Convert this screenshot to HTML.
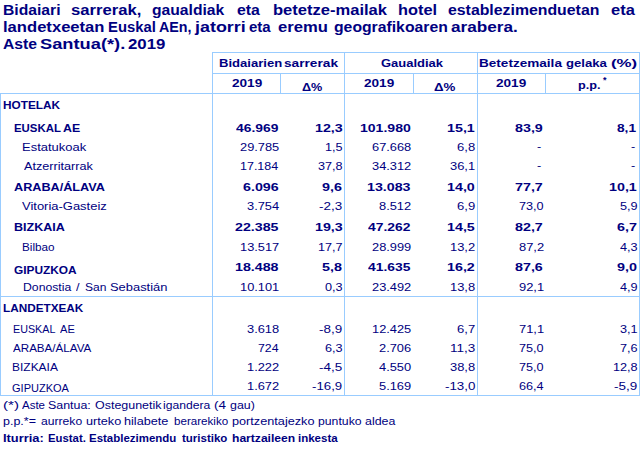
<!DOCTYPE html><html><head><meta charset="utf-8"><style>
html,body{margin:0;padding:0;background:#fff;width:642px;height:450px;overflow:hidden;position:relative}
.t{position:absolute;white-space:nowrap;font-family:"Liberation Sans",sans-serif;color:#000080;margin:0;padding:0}
.b{position:absolute;background:#99CCFF}
.bo{font-weight:bold}
</style></head><body>
<div class="b" style="left:212px;top:52px;width:428px;height:1px"></div>
<div class="b" style="left:212px;top:73px;width:428px;height:1px"></div>
<div class="b" style="left:0px;top:93px;width:640px;height:1px"></div>
<div class="b" style="left:0px;top:296px;width:640px;height:1px"></div>
<div class="b" style="left:0px;top:395px;width:640px;height:1px"></div>
<div class="b" style="left:212px;top:52px;width:1px;height:344px"></div>
<div class="b" style="left:344px;top:52px;width:1px;height:344px"></div>
<div class="b" style="left:477px;top:52px;width:1px;height:344px"></div>
<div class="b" style="left:639px;top:52px;width:1px;height:344px"></div>
<div class="b" style="left:0px;top:93px;width:1px;height:303px"></div>
<div class="b" style="left:280px;top:73px;width:1px;height:21px"></div>
<div class="b" style="left:413px;top:73px;width:1px;height:21px"></div>
<div class="b" style="left:545px;top:73px;width:1px;height:21px"></div>
<div id="t0" class="t bo" style="font-size:14px;line-height:16px;left:3.03px;top:2.0px;transform:scaleX(1.1197);transform-origin:0 0">Bidaiari</div>
<div id="t1" class="t bo" style="font-size:14px;line-height:16px;left:70.56px;top:2.0px;transform:scaleX(1.1883);transform-origin:0 0">sarrerak,</div>
<div id="t2" class="t bo" style="font-size:14px;line-height:16px;left:152.04px;top:2.0px;transform:scaleX(1.1185);transform-origin:0 0">gaualdiak</div>
<div id="t3" class="t bo" style="font-size:14px;line-height:16px;left:237.23px;top:2.0px;transform:scaleX(1.1303);transform-origin:0 0">eta</div>
<div id="t4" class="t bo" style="font-size:14px;line-height:16px;left:272.97px;top:2.0px;transform:scaleX(1.1814);transform-origin:0 0">betetze-mailak</div>
<div id="t5" class="t bo" style="font-size:14px;line-height:16px;left:397.99px;top:2.0px;transform:scaleX(1.1660);transform-origin:0 0">hotel</div>
<div id="t6" class="t bo" style="font-size:14px;line-height:16px;left:448.02px;top:2.0px;transform:scaleX(1.1311);transform-origin:0 0">establezimenduetan</div>
<div id="t7" class="t bo" style="font-size:14px;line-height:16px;left:610.97px;top:2.0px;transform:scaleX(1.1761);transform-origin:0 0">eta</div>
<div id="t8" class="t bo" style="font-size:14px;line-height:16px;left:2.97px;top:19.0px;transform:scaleX(1.1859);transform-origin:0 0">landetxeetan</div>
<div id="t9" class="t bo" style="font-size:14px;line-height:16px;left:108.12px;top:19.0px;transform:scaleX(1.0580);transform-origin:0 0">Euskal</div>
<div id="t10" class="t bo" style="font-size:14px;line-height:16px;left:159.17px;top:19.0px;transform:scaleX(1.0186);transform-origin:0 0">AEn,</div>
<div id="t11" class="t bo" style="font-size:14px;line-height:16px;left:194.94px;top:19.0px;transform:scaleX(1.2778);transform-origin:0 0">jatorri</div>
<div id="t12" class="t bo" style="font-size:14px;line-height:16px;left:249.10px;top:19.0px;transform:scaleX(1.0716);transform-origin:0 0">eta</div>
<div id="t13" class="t bo" style="font-size:14px;line-height:16px;left:277.95px;top:19.0px;transform:scaleX(1.1875);transform-origin:0 0">eremu</div>
<div id="t14" class="t bo" style="font-size:14px;line-height:16px;left:334.02px;top:19.0px;transform:scaleX(1.1248);transform-origin:0 0">geografikoaren</div>
<div id="t15" class="t bo" style="font-size:14px;line-height:16px;left:451.41px;top:19.0px;transform:scaleX(1.2255);transform-origin:0 0">arabera.</div>
<div id="t16" class="t bo" style="font-size:14px;line-height:16px;left:3.13px;top:36.0px;transform:scaleX(1.1221);transform-origin:0 0">Aste</div>
<div id="t17" class="t bo" style="font-size:14px;line-height:16px;left:40.24px;top:36.0px;transform:scaleX(1.3044);transform-origin:0 0">Santua(*).</div>
<div id="t18" class="t bo" style="font-size:14px;line-height:16px;left:127.93px;top:36.0px;transform:scaleX(1.2007);transform-origin:0 0">2019</div>
<div id="t19" class="t bo" style="font-size:11px;line-height:13px;left:219.45px;top:57.0px;transform:scaleX(1.1884);transform-origin:0 0">Bidaiarien</div>
<div id="t20" class="t bo" style="font-size:11px;line-height:13px;left:283.88px;top:57.0px;transform:scaleX(1.2439);transform-origin:0 0">sarrerak</div>
<div id="t21" class="t bo" style="font-size:11px;line-height:13px;left:380.97px;top:57.0px;transform:scaleX(1.1792);transform-origin:0 0">Gaualdiak</div>
<div id="t22" class="t bo" style="font-size:11px;line-height:13px;left:478.89px;top:57.0px;transform:scaleX(1.2332);transform-origin:0 0">Betetzemaila</div>
<div id="t23" class="t bo" style="font-size:11px;line-height:13px;left:565.94px;top:57.0px;transform:scaleX(1.1954);transform-origin:0 0">gelaka</div>
<div id="t24" class="t bo" style="font-size:11px;line-height:13px;left:610.97px;top:57.0px;transform:scaleX(1.5340);transform-origin:0 0">(%)</div>
<div id="t25" class="t bo" style="font-size:11px;line-height:13px;left:231.93px;top:77.0px;transform:scaleX(1.2352);transform-origin:0 0">2019</div>
<div id="t26" class="t bo" style="font-size:11px;line-height:13px;left:302.00px;top:81.0px;transform:scaleX(1.1500);transform-origin:0 0">Δ%</div>
<div id="t27" class="t bo" style="font-size:11px;line-height:13px;left:363.93px;top:77.0px;transform:scaleX(1.2352);transform-origin:0 0">2019</div>
<div id="t28" class="t bo" style="font-size:11px;line-height:13px;left:433.95px;top:81.0px;transform:scaleX(1.2105);transform-origin:0 0">Δ%</div>
<div id="t29" class="t bo" style="font-size:11px;line-height:13px;left:495.93px;top:77.0px;transform:scaleX(1.2352);transform-origin:0 0">2019</div>
<div id="t30" class="t bo" style="font-size:11px;line-height:13px;left:578.00px;top:79.0px;transform:scaleX(1.1500);transform-origin:0 0">p.p.</div>
<div id="t31" class="t bo" style="font-size:11px;line-height:13px;left:3.07px;top:99.0px;transform:scaleX(1.0733);transform-origin:0 0">HOTELAK</div>
<div id="t32" class="t bo" style="font-size:11px;line-height:13px;left:14.39px;top:122.0px;transform:scaleX(1.0374);transform-origin:0 0">EUSKAL</div>
<div id="t33" class="t bo" style="font-size:11px;line-height:13px;left:63.04px;top:122.0px;transform:scaleX(1.1212);transform-origin:0 0">AE</div>
<div id="t34" class="t" style="font-size:11px;line-height:13px;left:21.96px;top:141.0px;transform:scaleX(1.1783);transform-origin:0 0">Estatukoak</div>
<div id="t35" class="t" style="font-size:11px;line-height:13px;left:23.50px;top:160.0px;transform:scaleX(1.1500);transform-origin:0 0">Atzerritarrak</div>
<div id="t36" class="t bo" style="font-size:11px;line-height:13px;left:14.00px;top:181.0px;transform:scaleX(1.1500);transform-origin:0 0">ARABA/ÁLAVA</div>
<div id="t37" class="t" style="font-size:11px;line-height:13px;left:22.47px;top:200.0px;transform:scaleX(1.1784);transform-origin:0 0">Vitoria-Gasteiz</div>
<div id="t38" class="t bo" style="font-size:11px;line-height:13px;left:14.01px;top:221.0px;transform:scaleX(1.1385);transform-origin:0 0">BIZKAIA</div>
<div id="t39" class="t" style="font-size:11px;line-height:13px;left:22.11px;top:241.0px;transform:scaleX(1.0654);transform-origin:0 0">Bilbao</div>
<div id="t40" class="t bo" style="font-size:11px;line-height:13px;left:14.06px;top:264.0px;transform:scaleX(1.0792);transform-origin:0 0">GIPUZKOA</div>
<div id="t41" class="t" style="font-size:11px;line-height:13px;left:22.54px;top:281.0px;transform:scaleX(1.1113);transform-origin:0 0">Donostia</div>
<div id="t42" class="t" style="font-size:11px;line-height:13px;left:76.00px;top:281.0px;transform:scaleX(1.1500);transform-origin:0 0">/</div>
<div id="t43" class="t" style="font-size:11px;line-height:13px;left:84.87px;top:281.0px;transform:scaleX(1.0952);transform-origin:0 0">San</div>
<div id="t44" class="t" style="font-size:11px;line-height:13px;left:109.89px;top:281.0px;transform:scaleX(1.1732);transform-origin:0 0">Sebastián</div>
<div id="t45" class="t bo" style="font-size:11px;line-height:13px;left:3.07px;top:302.0px;transform:scaleX(1.0688);transform-origin:0 0">LANDETXEAK</div>
<div id="t46" class="t" style="font-size:11px;line-height:13px;left:12.97px;top:323.0px;transform:scaleX(0.9763);transform-origin:0 0">EUSKAL</div>
<div id="t47" class="t" style="font-size:11px;line-height:13px;left:60.38px;top:323.0px;transform:scaleX(1.0062);transform-origin:0 0">AE</div>
<div id="t48" class="t" style="font-size:11px;line-height:13px;left:13.04px;top:342.0px;transform:scaleX(1.0553);transform-origin:0 0">ARABA/ÁLAVA</div>
<div id="t49" class="t" style="font-size:11px;line-height:13px;left:12.08px;top:361.0px;transform:scaleX(1.0888);transform-origin:0 0">BIZKAIA</div>
<div id="t50" class="t" style="font-size:11px;line-height:13px;left:12.45px;top:382.0px;transform:scaleX(1.0019);transform-origin:0 0">GIPUZKOA</div>
<div id="t51" class="t bo" style="font-size:11px;line-height:13px;left:236.26px;top:122.0px;transform:scaleX(1.2589);transform-origin:0 0">46.969</div>
<div id="t52" class="t bo" style="font-size:11px;line-height:13px;left:314.88px;top:122.0px;transform:scaleX(1.2956);transform-origin:0 0">12,3</div>
<div id="t53" class="t bo" style="font-size:11px;line-height:13px;left:360.08px;top:122.0px;transform:scaleX(1.2766);transform-origin:0 0">101.980</div>
<div id="t54" class="t bo" style="font-size:11px;line-height:13px;left:447.40px;top:122.0px;transform:scaleX(1.2978);transform-origin:0 0">15,1</div>
<div id="t55" class="t bo" style="font-size:11px;line-height:13px;left:515.40px;top:122.0px;transform:scaleX(1.2978);transform-origin:0 0">83,9</div>
<div id="t56" class="t bo" style="font-size:11px;line-height:13px;left:616.90px;top:122.0px;transform:scaleX(1.2441);transform-origin:0 0">8,1</div>
<div id="t57" class="t" style="font-size:11px;line-height:13px;left:239.91px;top:141.0px;transform:scaleX(1.1650);transform-origin:0 0">29.785</div>
<div id="t58" class="t" style="font-size:11px;line-height:13px;left:324.65px;top:141.0px;transform:scaleX(1.1505);transform-origin:0 0">1,5</div>
<div id="t59" class="t" style="font-size:11px;line-height:13px;left:371.91px;top:141.0px;transform:scaleX(1.1650);transform-origin:0 0">67.668</div>
<div id="t60" class="t" style="font-size:11px;line-height:13px;left:457.13px;top:141.0px;transform:scaleX(1.1856);transform-origin:0 0">6,8</div>
<div id="t61" class="t" style="font-size:11px;line-height:13px;left:537.39px;top:140.0px;transform:scaleX(1.1500);transform-origin:0 0">-</div>
<div id="t62" class="t" style="font-size:11px;line-height:13px;left:631.39px;top:140.0px;transform:scaleX(1.1500);transform-origin:0 0">-</div>
<div id="t63" class="t" style="font-size:11px;line-height:13px;left:239.94px;top:160.0px;transform:scaleX(1.1344);transform-origin:0 0">17.184</div>
<div id="t64" class="t" style="font-size:11px;line-height:13px;left:317.58px;top:160.0px;transform:scaleX(1.1497);transform-origin:0 0">37,8</div>
<div id="t65" class="t" style="font-size:11px;line-height:13px;left:371.91px;top:160.0px;transform:scaleX(1.1650);transform-origin:0 0">34.312</div>
<div id="t66" class="t" style="font-size:11px;line-height:13px;left:450.06px;top:160.0px;transform:scaleX(1.1746);transform-origin:0 0">36,1</div>
<div id="t67" class="t" style="font-size:11px;line-height:13px;left:537.39px;top:159.0px;transform:scaleX(1.1500);transform-origin:0 0">-</div>
<div id="t68" class="t" style="font-size:11px;line-height:13px;left:631.39px;top:159.0px;transform:scaleX(1.1500);transform-origin:0 0">-</div>
<div id="t69" class="t bo" style="font-size:11px;line-height:13px;left:242.74px;top:181.0px;transform:scaleX(1.2948);transform-origin:0 0">6.096</div>
<div id="t70" class="t bo" style="font-size:11px;line-height:13px;left:321.93px;top:181.0px;transform:scaleX(1.3035);transform-origin:0 0">9,6</div>
<div id="t71" class="t bo" style="font-size:11px;line-height:13px;left:367.08px;top:181.0px;transform:scaleX(1.2929);transform-origin:0 0">13.083</div>
<div id="t72" class="t bo" style="font-size:11px;line-height:13px;left:447.40px;top:181.0px;transform:scaleX(1.2978);transform-origin:0 0">14,0</div>
<div id="t73" class="t bo" style="font-size:11px;line-height:13px;left:515.40px;top:181.0px;transform:scaleX(1.2978);transform-origin:0 0">77,7</div>
<div id="t74" class="t bo" style="font-size:11px;line-height:13px;left:609.40px;top:181.0px;transform:scaleX(1.2978);transform-origin:0 0">10,1</div>
<div id="t75" class="t" style="font-size:11px;line-height:13px;left:246.98px;top:200.0px;transform:scaleX(1.1687);transform-origin:0 0">3.754</div>
<div id="t76" class="t" style="font-size:11px;line-height:13px;left:319.39px;top:200.0px;transform:scaleX(1.2231);transform-origin:0 0">-2,3</div>
<div id="t77" class="t" style="font-size:11px;line-height:13px;left:378.98px;top:200.0px;transform:scaleX(1.1687);transform-origin:0 0">8.512</div>
<div id="t78" class="t" style="font-size:11px;line-height:13px;left:457.13px;top:200.0px;transform:scaleX(1.1856);transform-origin:0 0">6,9</div>
<div id="t79" class="t" style="font-size:11px;line-height:13px;left:518.58px;top:200.0px;transform:scaleX(1.1497);transform-origin:0 0">73,0</div>
<div id="t80" class="t" style="font-size:11px;line-height:13px;left:619.65px;top:200.0px;transform:scaleX(1.1505);transform-origin:0 0">5,9</div>
<div id="t81" class="t bo" style="font-size:11px;line-height:13px;left:235.15px;top:221.0px;transform:scaleX(1.2929);transform-origin:0 0">22.385</div>
<div id="t82" class="t bo" style="font-size:11px;line-height:13px;left:314.88px;top:221.0px;transform:scaleX(1.2956);transform-origin:0 0">19,3</div>
<div id="t83" class="t bo" style="font-size:11px;line-height:13px;left:368.21px;top:221.0px;transform:scaleX(1.2589);transform-origin:0 0">47.262</div>
<div id="t84" class="t bo" style="font-size:11px;line-height:13px;left:447.40px;top:221.0px;transform:scaleX(1.2978);transform-origin:0 0">14,5</div>
<div id="t85" class="t bo" style="font-size:11px;line-height:13px;left:515.40px;top:221.0px;transform:scaleX(1.2978);transform-origin:0 0">82,7</div>
<div id="t86" class="t bo" style="font-size:11px;line-height:13px;left:616.99px;top:221.0px;transform:scaleX(1.3035);transform-origin:0 0">6,7</div>
<div id="t87" class="t" style="font-size:11px;line-height:13px;left:239.91px;top:241.0px;transform:scaleX(1.1650);transform-origin:0 0">13.517</div>
<div id="t88" class="t" style="font-size:11px;line-height:13px;left:317.58px;top:241.0px;transform:scaleX(1.1497);transform-origin:0 0">17,7</div>
<div id="t89" class="t" style="font-size:11px;line-height:13px;left:371.91px;top:241.0px;transform:scaleX(1.1650);transform-origin:0 0">28.999</div>
<div id="t90" class="t" style="font-size:11px;line-height:13px;left:450.06px;top:241.0px;transform:scaleX(1.1746);transform-origin:0 0">13,2</div>
<div id="t91" class="t" style="font-size:11px;line-height:13px;left:518.58px;top:241.0px;transform:scaleX(1.1743);transform-origin:0 0">87,2</div>
<div id="t92" class="t" style="font-size:11px;line-height:13px;left:619.65px;top:241.0px;transform:scaleX(1.1505);transform-origin:0 0">4,3</div>
<div id="t93" class="t bo" style="font-size:11px;line-height:13px;left:235.15px;top:261.0px;transform:scaleX(1.2929);transform-origin:0 0">18.488</div>
<div id="t94" class="t bo" style="font-size:11px;line-height:13px;left:321.93px;top:261.0px;transform:scaleX(1.3035);transform-origin:0 0">5,8</div>
<div id="t95" class="t bo" style="font-size:11px;line-height:13px;left:368.21px;top:261.0px;transform:scaleX(1.2589);transform-origin:0 0">41.635</div>
<div id="t96" class="t bo" style="font-size:11px;line-height:13px;left:447.40px;top:261.0px;transform:scaleX(1.2978);transform-origin:0 0">16,2</div>
<div id="t97" class="t bo" style="font-size:11px;line-height:13px;left:515.40px;top:261.0px;transform:scaleX(1.2978);transform-origin:0 0">87,6</div>
<div id="t98" class="t bo" style="font-size:11px;line-height:13px;left:616.99px;top:261.0px;transform:scaleX(1.3035);transform-origin:0 0">9,0</div>
<div id="t99" class="t" style="font-size:11px;line-height:13px;left:239.91px;top:281.0px;transform:scaleX(1.1650);transform-origin:0 0">10.101</div>
<div id="t100" class="t" style="font-size:11px;line-height:13px;left:324.65px;top:281.0px;transform:scaleX(1.1505);transform-origin:0 0">0,3</div>
<div id="t101" class="t" style="font-size:11px;line-height:13px;left:371.91px;top:281.0px;transform:scaleX(1.1650);transform-origin:0 0">23.492</div>
<div id="t102" class="t" style="font-size:11px;line-height:13px;left:450.06px;top:281.0px;transform:scaleX(1.1746);transform-origin:0 0">13,8</div>
<div id="t103" class="t" style="font-size:11px;line-height:13px;left:518.58px;top:281.0px;transform:scaleX(1.1743);transform-origin:0 0">92,1</div>
<div id="t104" class="t" style="font-size:11px;line-height:13px;left:619.65px;top:281.0px;transform:scaleX(1.1505);transform-origin:0 0">4,9</div>
<div id="t105" class="t" style="font-size:11px;line-height:13px;left:246.98px;top:323.0px;transform:scaleX(1.1687);transform-origin:0 0">3.618</div>
<div id="t106" class="t" style="font-size:11px;line-height:13px;left:319.39px;top:323.0px;transform:scaleX(1.2231);transform-origin:0 0">-8,9</div>
<div id="t107" class="t" style="font-size:11px;line-height:13px;left:371.91px;top:323.0px;transform:scaleX(1.1650);transform-origin:0 0">12.425</div>
<div id="t108" class="t" style="font-size:11px;line-height:13px;left:457.13px;top:323.0px;transform:scaleX(1.1856);transform-origin:0 0">6,7</div>
<div id="t109" class="t" style="font-size:11px;line-height:13px;left:518.58px;top:323.0px;transform:scaleX(1.1743);transform-origin:0 0">71,1</div>
<div id="t110" class="t" style="font-size:11px;line-height:13px;left:619.65px;top:323.0px;transform:scaleX(1.1505);transform-origin:0 0">3,1</div>
<div id="t111" class="t" style="font-size:11px;line-height:13px;left:257.60px;top:342.0px;transform:scaleX(1.1206);transform-origin:0 0">724</div>
<div id="t112" class="t" style="font-size:11px;line-height:13px;left:324.65px;top:342.0px;transform:scaleX(1.1505);transform-origin:0 0">6,3</div>
<div id="t113" class="t" style="font-size:11px;line-height:13px;left:378.98px;top:342.0px;transform:scaleX(1.1687);transform-origin:0 0">2.706</div>
<div id="t114" class="t" style="font-size:11px;line-height:13px;left:450.02px;top:342.0px;transform:scaleX(1.2280);transform-origin:0 0">11,3</div>
<div id="t115" class="t" style="font-size:11px;line-height:13px;left:518.58px;top:342.0px;transform:scaleX(1.1497);transform-origin:0 0">75,0</div>
<div id="t116" class="t" style="font-size:11px;line-height:13px;left:619.65px;top:342.0px;transform:scaleX(1.1505);transform-origin:0 0">7,6</div>
<div id="t117" class="t" style="font-size:11px;line-height:13px;left:246.98px;top:361.0px;transform:scaleX(1.1687);transform-origin:0 0">1.222</div>
<div id="t118" class="t" style="font-size:11px;line-height:13px;left:319.39px;top:361.0px;transform:scaleX(1.2231);transform-origin:0 0">-4,5</div>
<div id="t119" class="t" style="font-size:11px;line-height:13px;left:378.98px;top:361.0px;transform:scaleX(1.1687);transform-origin:0 0">4.550</div>
<div id="t120" class="t" style="font-size:11px;line-height:13px;left:450.06px;top:361.0px;transform:scaleX(1.1746);transform-origin:0 0">38,8</div>
<div id="t121" class="t" style="font-size:11px;line-height:13px;left:518.58px;top:361.0px;transform:scaleX(1.1497);transform-origin:0 0">75,0</div>
<div id="t122" class="t" style="font-size:11px;line-height:13px;left:612.58px;top:361.0px;transform:scaleX(1.1497);transform-origin:0 0">12,8</div>
<div id="t123" class="t" style="font-size:11px;line-height:13px;left:246.98px;top:380.0px;transform:scaleX(1.1687);transform-origin:0 0">1.672</div>
<div id="t124" class="t" style="font-size:11px;line-height:13px;left:312.33px;top:380.0px;transform:scaleX(1.2034);transform-origin:0 0">-16,9</div>
<div id="t125" class="t" style="font-size:11px;line-height:13px;left:378.98px;top:380.0px;transform:scaleX(1.1687);transform-origin:0 0">5.169</div>
<div id="t126" class="t" style="font-size:11px;line-height:13px;left:444.65px;top:380.0px;transform:scaleX(1.2138);transform-origin:0 0">-13,0</div>
<div id="t127" class="t" style="font-size:11px;line-height:13px;left:518.58px;top:380.0px;transform:scaleX(1.1497);transform-origin:0 0">66,4</div>
<div id="t128" class="t" style="font-size:11px;line-height:13px;left:614.39px;top:380.0px;transform:scaleX(1.2231);transform-origin:0 0">-5,9</div>
<div id="t129" class="t" style="font-size:10px;line-height:12px;left:2.69px;top:400.0px;transform:scaleX(1.5112);transform-origin:0 0">(*)</div>
<div id="t130" class="t" style="font-size:10px;line-height:12px;left:21.50px;top:400.0px;transform:scaleX(1.1500);transform-origin:0 0">Aste</div>
<div id="t131" class="t" style="font-size:10px;line-height:12px;left:48.39px;top:400.0px;transform:scaleX(1.2410);transform-origin:0 0">Santua:</div>
<div id="t132" class="t" style="font-size:10px;line-height:12px;left:94.92px;top:400.0px;transform:scaleX(1.2458);transform-origin:0 0">Ostegunetik</div>
<div id="t133" class="t" style="font-size:10px;line-height:12px;left:162.94px;top:400.0px;transform:scaleX(1.2153);transform-origin:0 0">igandera</div>
<div id="t134" class="t" style="font-size:10px;line-height:12px;left:213.75px;top:400.0px;transform:scaleX(1.3417);transform-origin:0 0">(4</div>
<div id="t135" class="t" style="font-size:10px;line-height:12px;left:229.98px;top:400.0px;transform:scaleX(1.2387);transform-origin:0 0">gau)</div>
<div id="t136" class="t" style="font-size:10px;line-height:12px;left:2.91px;top:416.0px;transform:scaleX(1.2491);transform-origin:0 0">p.p.*=</div>
<div id="t137" class="t" style="font-size:10px;line-height:12px;left:40.95px;top:416.0px;transform:scaleX(1.2129);transform-origin:0 0">aurreko</div>
<div id="t138" class="t" style="font-size:10px;line-height:12px;left:85.90px;top:416.0px;transform:scaleX(1.2661);transform-origin:0 0">urteko</div>
<div id="t139" class="t" style="font-size:10px;line-height:12px;left:124.35px;top:416.0px;transform:scaleX(1.2681);transform-origin:0 0">hilabete</div>
<div id="t140" class="t" style="font-size:10px;line-height:12px;left:173.99px;top:416.0px;transform:scaleX(1.1611);transform-origin:0 0">berarekiko</div>
<div id="t141" class="t" style="font-size:10px;line-height:12px;left:231.85px;top:416.0px;transform:scaleX(1.2682);transform-origin:0 0">portzentajezko</div>
<div id="t142" class="t" style="font-size:10px;line-height:12px;left:317.93px;top:416.0px;transform:scaleX(1.2248);transform-origin:0 0">puntuko</div>
<div id="t143" class="t" style="font-size:10px;line-height:12px;left:365.14px;top:416.0px;transform:scaleX(1.2400);transform-origin:0 0">aldea</div>
<div id="t144" class="t bo" style="font-size:10px;line-height:12px;left:2.88px;top:433.0px;transform:scaleX(1.2861);transform-origin:0 0">Iturria:</div>
<div id="t145" class="t bo" style="font-size:10px;line-height:12px;left:48.01px;top:433.0px;transform:scaleX(1.1345);transform-origin:0 0">Eustat.</div>
<div id="t146" class="t bo" style="font-size:10px;line-height:12px;left:89.26px;top:433.0px;transform:scaleX(1.1467);transform-origin:0 0">Establezimendu</div>
<div id="t147" class="t bo" style="font-size:10px;line-height:12px;left:182.00px;top:433.0px;transform:scaleX(1.1500);transform-origin:0 0">turistiko</div>
<div id="t148" class="t bo" style="font-size:10px;line-height:12px;left:231.95px;top:433.0px;transform:scaleX(1.2095);transform-origin:0 0">hartzaileen</div>
<div id="t149" class="t bo" style="font-size:10px;line-height:12px;left:298.00px;top:433.0px;transform:scaleX(1.1500);transform-origin:0 0">inkesta</div>
<div class="t bo" style="left:603px;top:76px;font-size:9px;line-height:9px">*</div>
</body></html>
